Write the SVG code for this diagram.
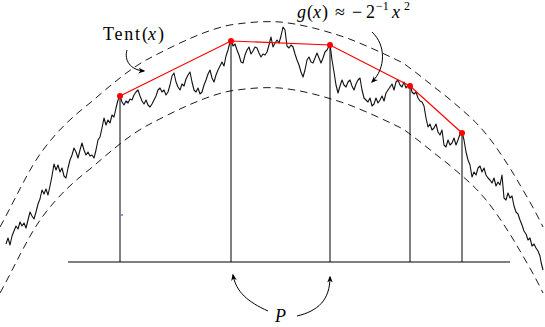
<svg xmlns="http://www.w3.org/2000/svg" width="545" height="327" viewBox="0 0 545 327">
<defs>
<style>
.dash{fill:none;stroke:#000;stroke-width:0.9;stroke-dasharray:7.5 5}
.walk{fill:none;stroke:#111;stroke-width:1.1;stroke-linejoin:round}
.vline{stroke:#000;stroke-width:1}
.tent{fill:none;stroke:#f00;stroke-width:1.2}
.pt{fill:#f00}
.arr{fill:none;stroke:#000;stroke-width:1;marker-end:url(#ah)}
.lbl{font-family:"Liberation Serif","DejaVu Serif",serif;font-size:18px;fill:#000}
.it{font-style:italic}
.sup{font-size:12px}
</style>
<marker id="ah" viewBox="0 0 10 10" refX="8" refY="5" markerWidth="7" markerHeight="7" orient="auto" markerUnits="userSpaceOnUse">
<path d="M0,1 L10,5 L0,9 L3,5 Z" fill="#000"/>
</marker>
<path id="bound" d="M0,227 C15,200 28,170 43,150 C58,130 72,117 90,103 C110,86 130,68 150,58 C175,45 205,30 230,25 C250,22 265,21 280,22 C300,24 320,29 347,38 C365,45 385,54 403,63 C420,75 436,89 447,97 C460,108 472,118 480,127 C492,140 503,157 513,173 C523,190 535,210 543,227"/>
</defs>
<g id="bounds">
<use href="#bound" class="dash"/>
<use href="#bound" class="dash" transform="translate(0,66)"/>
</g>
<g id="axis">
<line x1="68" y1="262" x2="510" y2="262" class="vline"/>
</g>
<g id="walk">
<path class="walk" d="M6,244 L8,238 L10,245 L12,236 L14,231 L16,226 L18,229 L20,222 L22,226 L24,223 L26,228 L28,220 L30,212 L32,216 L34,219 L36,212 L38,204 L40,199 L42,190 L44,194 L46,189 L48,195 L50,186 L52,176 L54,164 L56,170 L58,165 L60,172 L62,168 L64,176 L66,178 L68,168 L70,160 L72,155 L74,148 L76,152 L78,158 L80,150 L82,143 L84,150 L86,155 L88,152 L90,156 L92,155 L94,158 L96,150 L98,140 L100,137 L102,128 L104,118 L106,125 L108,120 L110,123 L112,115 L114,117 L116,108 L118,100 L120,96 L122,102 L124,105 L126,101 L128,103 L130,99 L132,100 L134,95 L136,92 L138,90 L140,96 L142,101 L144,104 L146,100 L148,105 L150,107 L152,104 L154,100 L156,96 L158,90 L160,88 L162,92 L164,90 L166,95 L168,92 L170,85 L172,76 L174,73 L176,82 L178,87 L180,90 L182,84 L184,86 L186,79 L188,75 L190,72 L192,82 L194,90 L196,92 L198,88 L200,94 L202,92 L204,85 L206,80 L208,74 L210,70 L212,78 L214,82 L216,75 L218,70 L220,66 L222,62 L224,66 L226,56 L228,50 L230,42 L231,40 L233,46 L235,44 L237,50 L239,55 L241,62 L243,63 L245,55 L247,50 L249,47 L251,54 L253,51 L255,47 L257,48 L259,53 L261,57 L263,54 L265,55 L267,52 L269,45 L271,37 L273,47 L275,43 L277,40 L279,43 L281,36 L283,27 L285,30 L287,46 L289,48 L291,45 L293,47 L295,54 L297,60 L299,65 L301,72 L303,77 L305,70 L307,60 L309,57 L311,62 L313,63 L315,58 L317,53 L319,58 L321,63 L323,58 L325,52 L327,50 L329,46 L330,44 L332,60 L334,72 L336,85 L338,93 L340,86 L342,80 L344,85 L346,87 L348,82 L350,80 L352,86 L354,90 L356,84 L358,80 L360,78 L362,90 L364,98 L366,100 L368,102 L370,98 L372,106 L374,104 L376,98 L378,103 L380,100 L382,96 L384,101 L386,93 L388,90 L390,87 L392,84 L394,90 L396,82 L398,80 L400,85 L402,87 L404,82 L406,88 L408,85 L410,84 L412,92 L414,94 L416,92 L418,98 L420,101 L422,102 L424,106 L426,118 L428,127 L430,124 L432,130 L434,128 L436,124 L438,132 L440,135 L442,130 L444,145 L446,147 L448,140 L450,145 L452,143 L454,138 L456,145 L458,140 L460,134 L462,132 L464,140 L466,152 L468,160 L470,165 L472,177 L474,172 L476,175 L478,168 L480,166 L482,172 L484,168 L486,175 L488,178 L490,180 L492,183 L494,178 L496,186 L498,182 L500,185 L502,175 L504,198 L506,200 L508,193 L510,198 L512,196 L514,206 L516,212 L518,214 L520,220 L522,225 L524,231 L526,234 L528,240 L530,238 L532,246 L534,244 L536,248 L538,251 L540,256 L541,262 L543,270"/>
<circle cx="122" cy="215" r="0.8" fill="#00f"/>
<circle cx="127" cy="102" r="0.8" fill="#00f"/>
</g>
<g id="verticals">
<line x1="120" y1="96" x2="120" y2="262" class="vline"/>
<line x1="231" y1="41" x2="231" y2="262" class="vline"/>
<line x1="330" y1="45" x2="330" y2="262" class="vline"/>
<line x1="410" y1="86" x2="410" y2="262" class="vline"/>
<line x1="462" y1="133" x2="462" y2="262" class="vline"/>
</g>
<g id="tent">
<polyline class="tent" points="120,96 231,41 330,45 410,86 462,133"/>
<circle class="pt" cx="120" cy="96" r="3"/>
<circle class="pt" cx="231" cy="41" r="3"/>
<circle class="pt" cx="330" cy="45" r="3"/>
<circle class="pt" cx="410" cy="86" r="3"/>
<circle class="pt" cx="462" cy="133" r="3"/>
</g>
<g id="connectors">
<path class="arr" d="M127,50 C124,60 130,70 144,71"/>
<path class="arr" d="M372,32 C386,45 386,68 372,82"/>
<path class="arr" d="M268,311 C248,302 236,292 233,275"/>
<path class="arr" d="M297,316 C318,311 330,300 330,277"/>
</g>
<g id="label-tent">
<text class="lbl" y="40"><tspan x="103" textLength="37">Tent</tspan><tspan x="142">(</tspan><tspan x="148" class="it">x</tspan><tspan x="158">)</tspan></text>
</g>
<g id="label-g">
<text class="lbl" y="18"><tspan x="297" class="it">g</tspan><tspan x="307">(</tspan><tspan x="313" class="it">x</tspan><tspan x="322">)</tspan><tspan x="335">≈</tspan><tspan x="352">−</tspan><tspan x="366">2</tspan><tspan x="376" y="10" class="sup">−1</tspan><tspan x="392" y="18" class="it">x</tspan><tspan x="404" y="10" class="sup">2</tspan></text>
</g>
<g id="label-p">
<text class="lbl it" x="275" y="322">P</text>
</g>
</svg>
